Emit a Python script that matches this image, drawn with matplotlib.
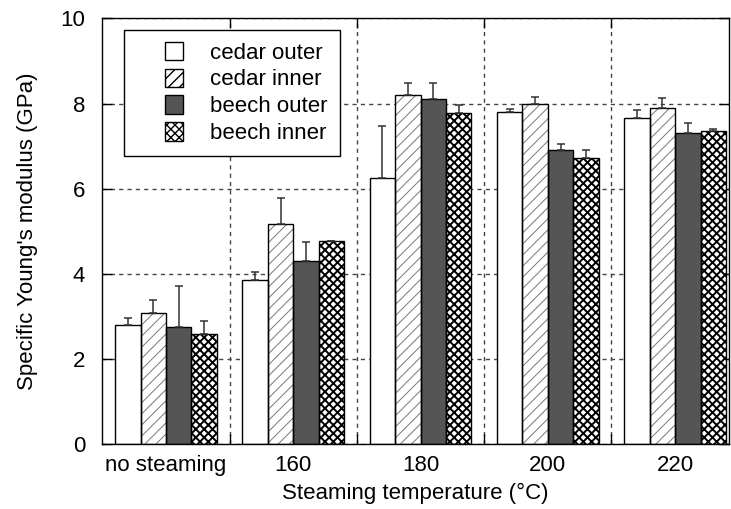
import numpy as np
import matplotlib
matplotlib.use("Agg")
import matplotlib.pyplot as plt
import matplotlib.patches as mpatches
from matplotlib.legend_handler import HandlerPatch

plt.rcParams['font.family'] = ['Liberation Sans', 'DejaVu Sans']

groups = ["no steaming", "160", "180", "200", "220"]
series = ["cedar outer", "cedar inner", "beech outer", "beech inner"]

cedar_outer = [2.79, 3.85, 6.26, 7.80, 7.65]
cedar_inner = [3.09, 5.17, 8.20, 7.99, 7.90]
beech_outer = [2.75, 4.30, 8.10, 6.91, 7.30]
beech_inner = [2.58, 4.77, 7.77, 6.71, 7.35]

cedar_outer_err = [0.17, 0.20, 1.21, 0.08, 0.19]
cedar_inner_err = [0.30, 0.60, 0.29, 0.17, 0.23]
beech_outer_err = [0.96, 0.45, 0.39, 0.15, 0.25]
beech_inner_err = [0.31, 0.01, 0.20, 0.21, 0.05]

values = [cedar_outer, cedar_inner, beech_outer, beech_inner]
errors = [cedar_outer_err, cedar_inner_err, beech_outer_err, beech_inner_err]
faces = ["white", "white", "#555555", "white"]
hatches = [None, "///", None, "xxxx"]
hatch_cols = ["black", "#777777", "black", "black"]
hatch_lw = [1.0, 0.7, 1.0, 1.4]

fig = plt.figure(figsize=(7.31, 5.09), dpi=100)
ax = fig.add_axes([0.1395, 0.1277, 0.8578, 0.836])

x = np.arange(len(groups))
w = 0.2
handles = []
for i, (vals, errs) in enumerate(zip(values, errors)):
    pos = x + (i - 1.5) * w
    with plt.rc_context({'hatch.linewidth': hatch_lw[i]}):
        ax.bar(pos, vals, w, color=faces[i], hatch=hatches[i],
               edgecolor=hatch_cols[i], linewidth=0, zorder=2)
        handles.append(mpatches.Patch(facecolor=faces[i], hatch=hatches[i],
                                      edgecolor="black", linewidth=1, label=series[i]))
    ax.bar(pos, vals, w, fill=False, edgecolor="black", linewidth=1, zorder=3)
    ax.errorbar(pos, vals, yerr=[np.zeros(len(errs)), errs], fmt="none",
                ecolor="#333333", elinewidth=1.1, capsize=3, capthick=1.1, zorder=4)


def square(legend, orig_handle, xdescent, ydescent, width, height, fontsize):
    s = height
    return mpatches.Rectangle((-xdescent + width - s, -ydescent), s, s)


leg = ax.legend(handles=handles, loc="upper left", bbox_to_anchor=(0.018, 1.0),
                fontsize=16, handlelength=2.1, handleheight=0.9,
                handletextpad=1.2, labelspacing=0.22, borderpad=0.55,
                fancybox=False, framealpha=1, edgecolor="black",
                handler_map={mpatches.Patch: HandlerPatch(patch_func=square)})
leg.get_frame().set_linewidth(1)
leg.set_zorder(5)

ax.set_xlim(-0.503, 4.424)
ax.set_ylim(0, 10)
ax.set_yticks(np.arange(0, 11, 2))
ax.set_xticks(x[:-1] + 0.5)
ax.set_xticklabels([])
ax.set_xticks(x, minor=True)
ax.set_xticklabels(groups, minor=True)
ax.tick_params(axis="x", which="minor", length=0, labelsize=16, pad=8)
ax.tick_params(axis="x", which="major", direction="in", length=7, top=True, width=1)
ax.tick_params(axis="y", direction="in", length=7, right=True, labelsize=16, pad=12, width=1)
ax.grid(True, which="major", linestyle=(0, (3, 3)), color="#444444", linewidth=1)
ax.set_axisbelow(True)
for sp in ax.spines.values():
    sp.set_linewidth(1)

ax.set_xlabel("Steaming temperature (°C)", fontsize=16, labelpad=5)
ax.set_ylabel("Specific Young's modulus (GPa)", fontsize=16, labelpad=16)

fig.savefig("out.png", dpi=100)
